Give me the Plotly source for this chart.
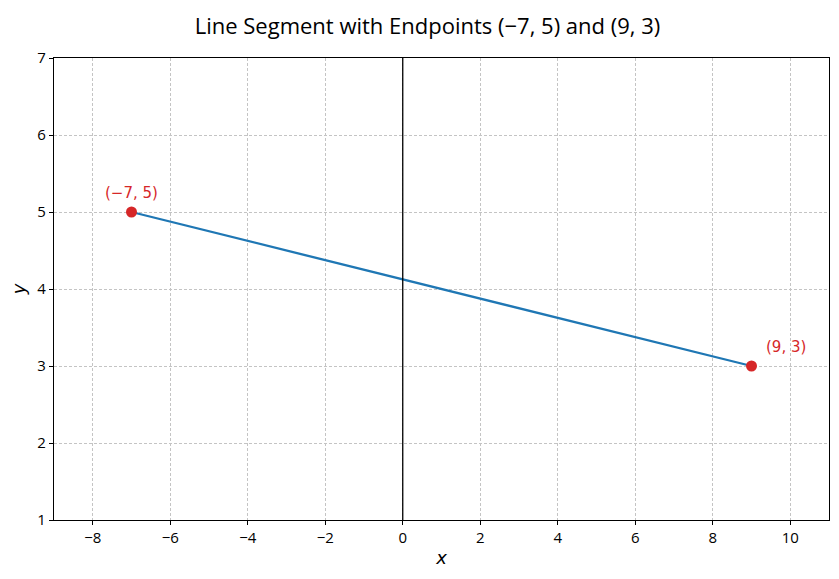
import plotly.graph_objects as go

# endpoints of the segment
seg_x = [-7, 9]
seg_y = [5, 3]
point_labels = ["(\u22127, 5)", "(9, 3)"]

x_ticks = [-8, -6, -4, -2, 0, 2, 4, 6, 8, 10]
y_ticks = [1, 2, 3, 4, 5, 6, 7]

fig = go.Figure()

# the segment itself
fig.add_trace(go.Scatter(x=seg_x, y=seg_y, mode="lines",
                         line=dict(color="#1f77b4", width=2.3),
                         hoverinfo="skip", showlegend=False))
# endpoints
fig.add_trace(go.Scatter(x=seg_x, y=seg_y, mode="markers",
                         marker=dict(color="#d62728", size=11),
                         showlegend=False))

# y-axis line at x=0
fig.add_shape(type="line", x0=0, x1=0, y0=0, y1=1, xref="x", yref="paper",
              line=dict(color="black", width=1.3))

# labels next to the endpoints
fig.add_annotation(x=seg_x[0], y=seg_y[0], text=point_labels[0], showarrow=False,
                   xanchor="center", yanchor="bottom", yshift=8,
                   font=dict(family="DejaVu Sans", size=15, color="#d62728"))
fig.add_annotation(x=seg_x[1], y=seg_y[1], text=point_labels[1], showarrow=False,
                   xanchor="left", yanchor="bottom", xshift=12, yshift=8,
                   font=dict(family="DejaVu Sans", size=15, color="#d62728"))

axis_common = dict(showline=True, linecolor="black", linewidth=1.2, mirror=True,
                   ticks="outside", ticklen=4, tickcolor="black",
                   showgrid=True, gridcolor="#c4c4c4", griddash="3px,2px", gridwidth=0.7,
                   zeroline=False, automargin=False,
                   tickfont=dict(size=15, color="black"))

fig.update_xaxes(range=[-9, 11], tickvals=x_ticks,
                 ticktext=[str(v).replace("-", "\u2212") for v in x_ticks],
                 title=dict(text="<i>x</i>", font=dict(family="DejaVu Sans", size=18), standoff=5),
                 **axis_common)
fig.update_yaxes(range=[1, 7], tickvals=y_ticks,
                 title=dict(text="<i>y</i>", font=dict(family="DejaVu Sans", size=18), standoff=17),
                 **axis_common)

fig.update_layout(
    width=839, height=579,
    title=dict(text="Line Segment with Endpoints (\u22127, 5) and (9, 3)",
               x=0.5, xref="container", xanchor="center",
               y=0.968, yanchor="middle",
               font=dict(size=22, color="black")),
    font=dict(family="Open Sans", color="black"),
    plot_bgcolor="white", paper_bgcolor="white",
    margin=dict(l=46, r=18, t=50, b=67),
)

fig.write_html("out.html")
